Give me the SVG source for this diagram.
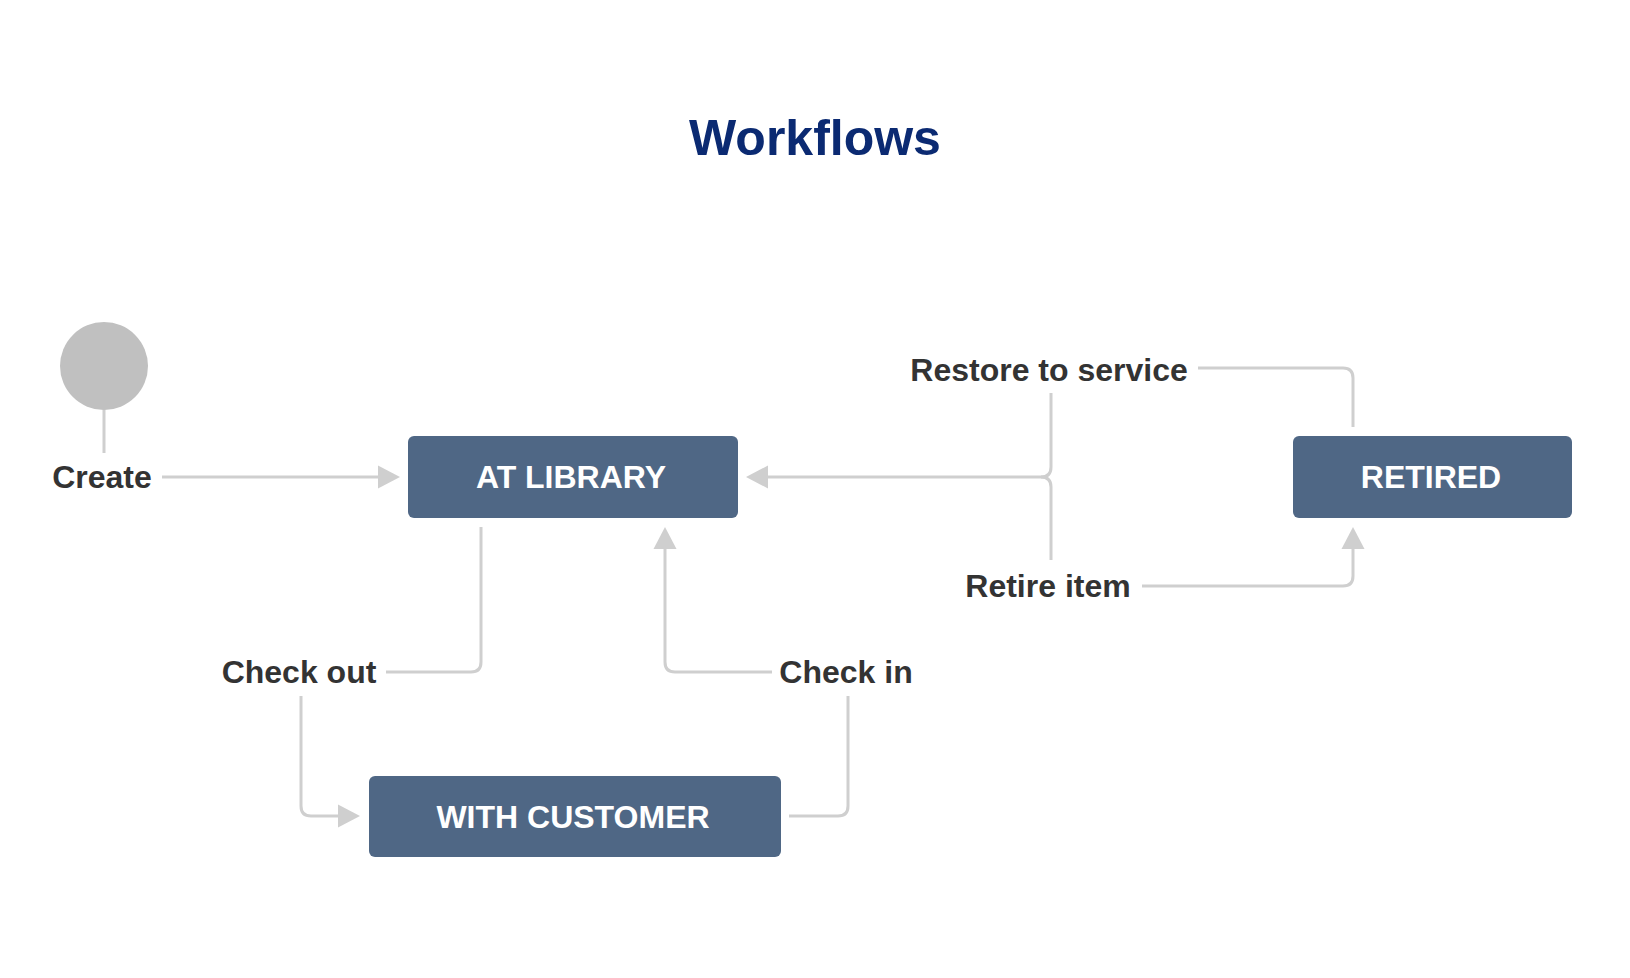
<svg xmlns="http://www.w3.org/2000/svg" width="1630" height="978" viewBox="0 0 1630 978">
<style>
.bg{fill:#ffffff}
.title{font-family:"Liberation Sans",Arial,sans-serif;font-weight:bold;font-size:50px;fill:#0b2a72;text-anchor:middle}
.state{fill:#4f6785;stroke:none}
.stext{font-family:"Liberation Sans",Arial,sans-serif;font-weight:bold;font-size:32px;fill:#ffffff;text-anchor:middle}
.lbl{font-family:"Liberation Sans",Arial,sans-serif;font-weight:bold;font-size:32px;fill:#333333;text-anchor:middle}
.conn{fill:none;stroke:#cfcfcf;stroke-width:3}
</style>
<defs>
<marker id="arr" markerUnits="userSpaceOnUse" markerWidth="24" markerHeight="24" refX="0" refY="11.5" orient="auto" overflow="visible">
<path d="M0,0 L22,11.5 L0,23 z" fill="#cfcfcf"/>
</marker>
</defs>
<rect class="bg" x="0" y="0" width="1630" height="978"/>
<text class="title" x="815" y="155">Workflows</text>
<g id="connectors">
<path class="conn" d="M104,408 V453"/>
<path class="conn" d="M162,477 H378" marker-end="url(#arr)"/>
<path class="conn" d="M1353,427 V378 Q1353,368 1343,368 H1198"/>
<path class="conn" d="M1051,393 V467 Q1051,477 1041,477 H768" marker-end="url(#arr)"/>
<path class="conn" d="M1051,560 V487 Q1051,477 1041,477"/>
<path class="conn" d="M1142,586 H1343 Q1353,586 1353,576 V549" marker-end="url(#arr)"/>
<path class="conn" d="M481,527 V662 Q481,672 471,672 H386"/>
<path class="conn" d="M301,696 V806 Q301,816 311,816 H338" marker-end="url(#arr)"/>
<path class="conn" d="M789,816 H838 Q848,816 848,806 V696"/>
<path class="conn" d="M772,672 H675 Q665,672 665,662 V549" marker-end="url(#arr)"/>
</g>
<g id="start">
<circle cx="104" cy="366" r="44" fill="#c0c0c0"/>
</g>
<g id="label-create"><text class="lbl" x="102" y="488">Create</text></g>
<g id="label-restore"><text class="lbl" x="1049" y="381">Restore to service</text></g>
<g id="label-retire"><text class="lbl" x="1048" y="597">Retire item</text></g>
<g id="label-checkout"><text class="lbl" x="299" y="683">Check out</text></g>
<g id="label-checkin"><text class="lbl" x="846" y="683">Check in</text></g>
<g id="at-library">
<rect class="state" x="408" y="436" width="330" height="82" rx="6"/>
<text class="stext" x="571" y="488">AT LIBRARY</text>
</g>
<g id="retired">
<rect class="state" x="1293" y="436" width="279" height="82" rx="6"/>
<text class="stext" x="1431" y="488">RETIRED</text>
</g>
<g id="with-customer">
<rect class="state" x="369" y="776" width="412" height="81" rx="6"/>
<text class="stext" x="573" y="828">WITH CUSTOMER</text>
</g>
</svg>
